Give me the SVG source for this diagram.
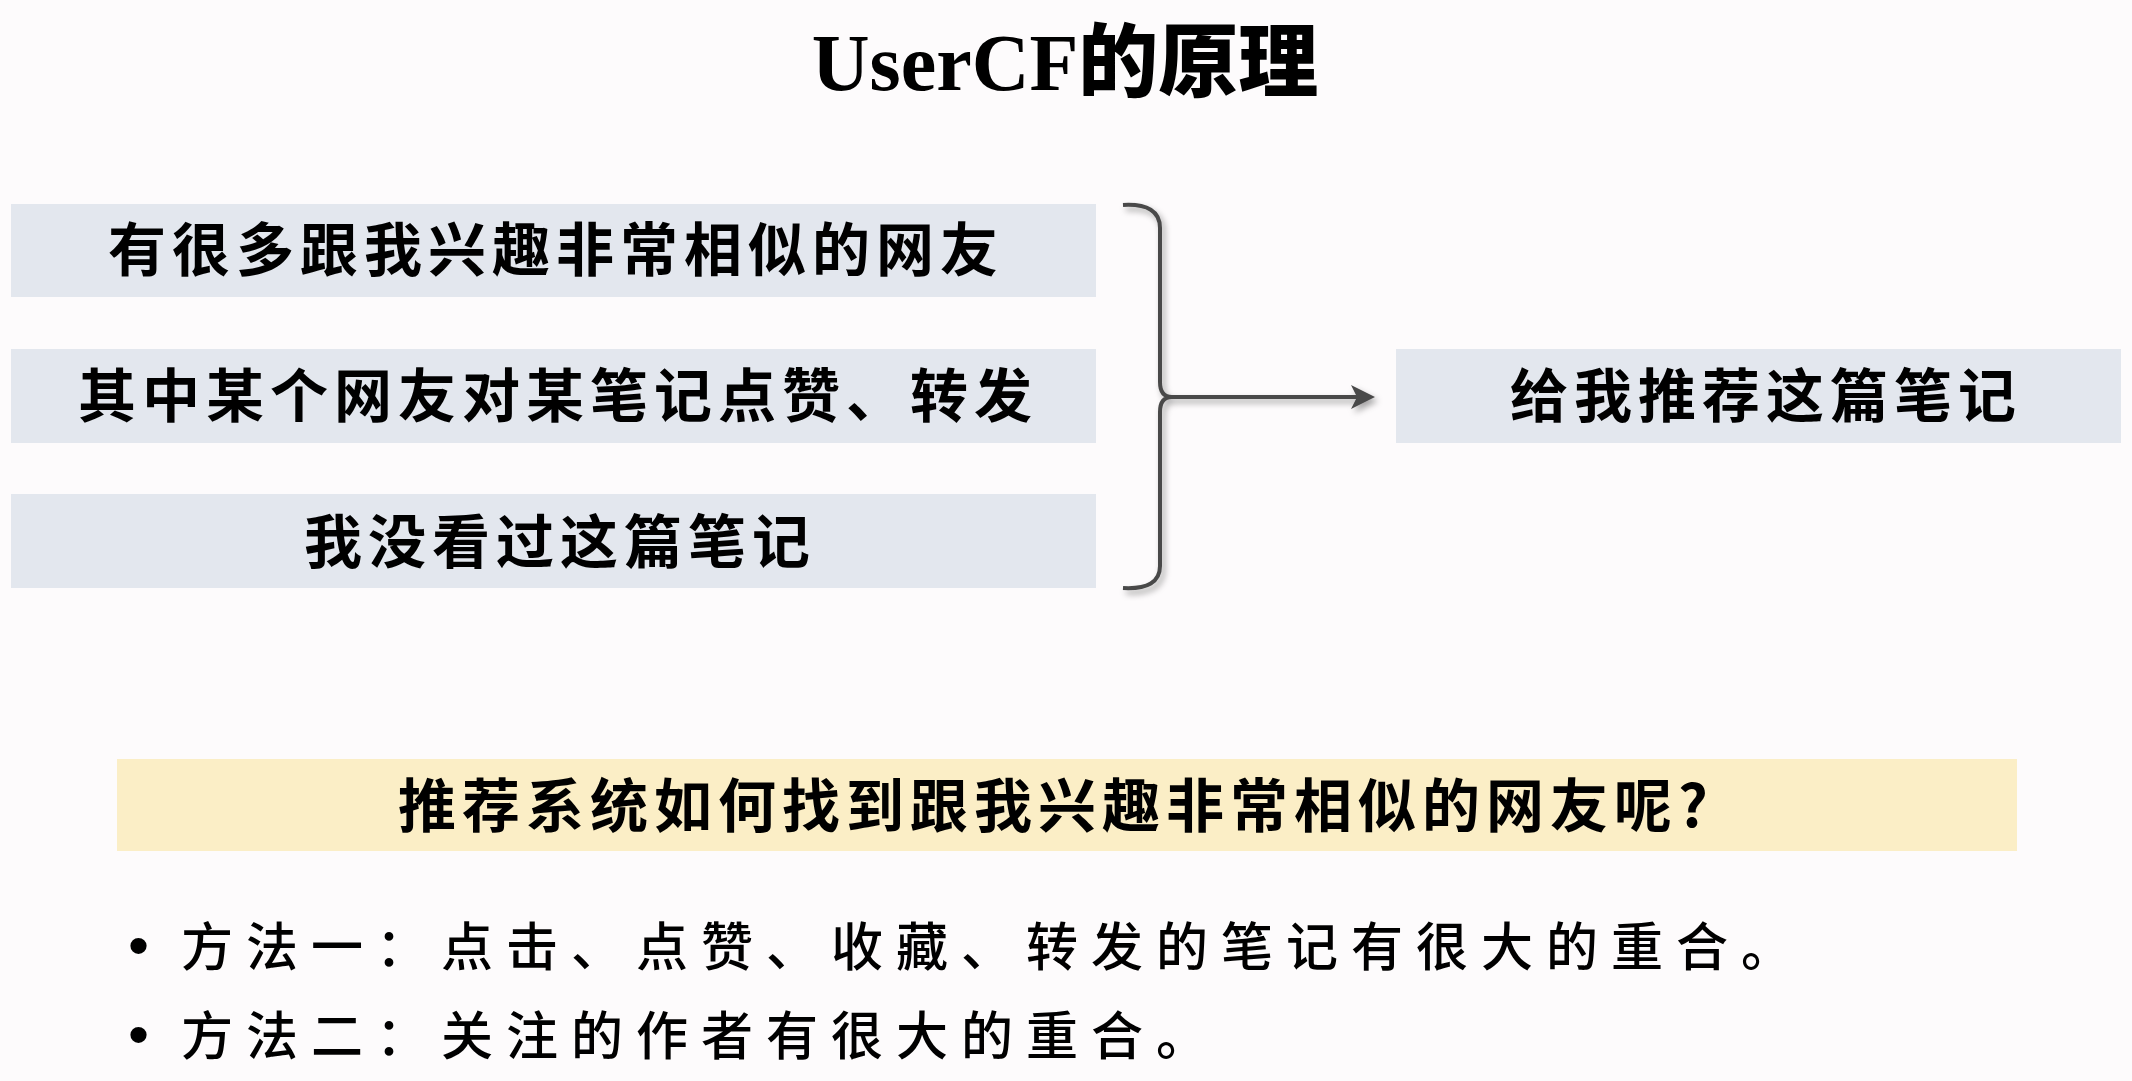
<svg xmlns="http://www.w3.org/2000/svg" width="2132" height="1081" viewBox="0 0 2132 1081">
<style>
.box{fill:#e3e7ee}
.q{fill:#fbeec6}
.t{font-family:"Noto Sans CJK SC","Noto Sans CJK TC",sans-serif;font-size:58px;font-weight:700;fill:#000;letter-spacing:6px}
.b{font-family:"Noto Sans CJK SC","Noto Sans CJK TC",sans-serif;font-size:52px;font-weight:500;fill:#000;letter-spacing:13px}
.title{font-family:"Liberation Serif","Noto Sans CJK SC",serif;font-size:80px;font-weight:bold;fill:#000}
.dot{font-family:"Liberation Sans",sans-serif;font-size:60px;fill:#000}
.conn{fill:none;stroke:#4a4a4a;stroke-width:4}
</style>
<defs>
<filter id="sh" x="-20%" y="-20%" width="140%" height="140%">
<feDropShadow dx="3" dy="4" stdDeviation="3" flood-color="#000" flood-opacity="0.35"/>
</filter>
<marker id="arr" viewBox="0 0 12 12" refX="10" refY="6" markerWidth="6" markerHeight="6" orient="auto" markerUnits="strokeWidth">
<path d="M0,0 L12,6 L0,12 L3,6 Z" fill="#4a4a4a"/>
</marker>
</defs>
<rect width="2132" height="1081" fill="#fdfbfc"/>
<g id="title"><text class="title" x="1065" y="90" text-anchor="middle">UserCF<tspan font-family="Noto Sans CJK SC,sans-serif" font-weight="900">的原理</tspan></text></g>
<g id="node1"><rect class="box" x="11" y="204" width="1085" height="93"/><text class="t" x="108" y="271">有很多跟我兴趣非常相似的网友</text></g>
<g id="node2"><rect class="box" x="11" y="349" width="1085" height="94"/><text class="t" x="78" y="417">其中某个网友对某笔记点赞、转发</text></g>
<g id="node3"><rect class="box" x="11" y="494" width="1085" height="94"/><text class="t" x="304" y="563">我没看过这篇笔记</text></g>
<g id="node4"><rect class="box" x="1396" y="349" width="725" height="94"/><text class="t" x="1510" y="417">给我推荐这篇笔记</text></g>
<g id="connectors" filter="url(#sh)">
<path class="conn" d="M1123,205 Q1160,203 1160,228 L1160,382 Q1160,397 1172,397 Q1160,397 1160,412 L1160,566 Q1160,590 1123,588"/>
<path class="conn" d="M1172,397 L1371,397" marker-end="url(#arr)"/>
</g>
<g id="question"><rect class="q" x="117" y="759" width="1900" height="92"/><text class="t" x="398" y="827">推荐系统如何找到跟我兴趣非常相似的网友呢?</text></g>
<g id="bullets">
<text class="dot" x="128" y="966">•</text>
<text class="b" x="181" y="966">方法一：点击、点赞、收藏、转发的笔记有很大的重合。</text>
<text class="dot" x="128" y="1055">•</text>
<text class="b" x="181" y="1055">方法二：关注的作者有很大的重合。</text>
</g>
</svg>
